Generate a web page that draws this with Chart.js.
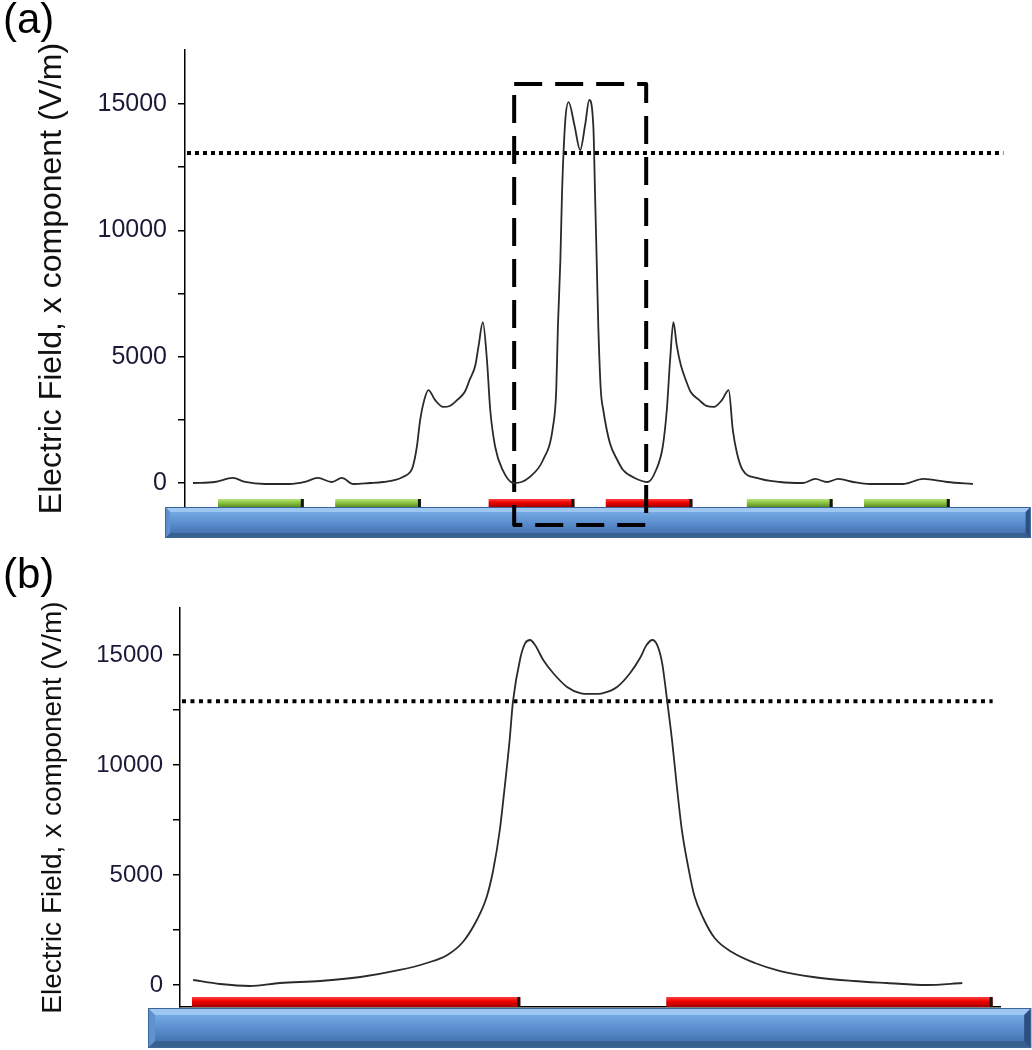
<!DOCTYPE html>
<html>
<head>
<meta charset="utf-8">
<script src="https://cdn.jsdelivr.net/npm/chart.js@4.4.1/dist/chart.umd.min.js"></script>
<style>
  body { margin: 0; background: #fff; }
  canvas { position: absolute; left: 0; }
  #chartA { top: 0; }
  #chartB { top: 545px; }
</style>
</head>
<body>
<canvas id="chartA" width="1032" height="545"></canvas>
<canvas id="chartB" width="1032" height="505"></canvas>
<script>
// panel (a): field along the surface, 6 electrodes
const xA = [0.97, 3.6, 5.8, 7.3, 9.7, 12.7, 14.5, 16.1, 17.8, 19.0, 20.4, 22.4, 24.0, 25.5, 26.4, 27.3, 27.6, 28.1, 28.5, 29.0,
    29.5, 30.3, 31.3, 32.1, 33.0, 33.9, 34.5, 35.2, 35.6, 36.1, 36.6, 37.0, 37.6, 38.5, 39.8, 40.8, 41.8, 43.4, 44.6, 45.0,
    45.2, 45.5, 45.7, 46.1, 46.5, 47.2, 47.9, 48.5, 49.0, 49.5, 49.7, 49.9, 50.1, 50.4, 50.7, 51.5, 52.4, 53.1, 54.5, 56.1,
    57.1, 57.9, 58.4, 58.8, 59.2, 59.6, 60.1, 60.7, 61.3, 62.3, 63.2, 64.1, 65.1, 65.9, 66.4, 66.9, 67.6, 69.3, 72.1, 74.9,
    76.4, 77.8, 79.2, 81.0, 83.0, 87.0, 89.5, 92.4, 95.5];
const fieldA = [0, 40, 200, 40, -40, -40, 40, 200, 40, 200, -40, 0, 40, 120, 240, 435, 630, 1425, 2490, 3290,
    3680, 3290, 3010, 3050, 3290, 3600, 4080, 4670, 5460, 6370, 4870, 2890, 1425, 515, 0, 40, 240, 910, 2220, 3680,
    6180, 8830, 11480, 14370, 15080, 14170, 13180, 14170, 15160, 14090, 11480, 8830, 6180, 3680, 2890, 1580, 910, 515, 200, 40,
    515, 1425, 2890, 4870, 6370, 5460, 4670, 4080, 3600, 3290, 3050, 3010, 3290, 3680, 2100, 1190, 515, 200, 40, 0,
    160, 40, 160, 40, -40, -40, 160, 40, -40];
const thresholdA = 13060;
const thresholdSpanA = [0.24, 99.2];
const zoomBoxA = { left: 39.9, right: 55.9, top: 15796, bottom: -1663 };
const electrodeStartA = [4.0, 18.2, 36.8, 51.0, 68.1, 82.3];
const electrodeEndA = [14.4, 28.6, 47.2, 61.5, 78.5, 92.7];
const electrodeKindA = ['green', 'green', 'red', 'red', 'green', 'green'];
const electrodeLevelsA = [-633, -950];
const substrateA = { left: -2.4, right: 102.5, top: -950, bottom: -2177 };

// panel (b): zoom on the two central electrodes
const xB = [1.6, 4.9, 8.5, 12.2, 17.1, 22.0, 26.8, 30.1, 32.6, 34.5, 36.2, 37.4, 38.2, 39.0, 39.6, 40.2, 40.6, 41.5, 42.1, 42.7,
    43.3, 44.3, 45.5, 47.2, 48.8, 50.2, 51.6, 53.3, 54.9, 56.1, 56.9, 57.6, 58.2, 58.8, 59.4, 60.0, 60.6, 61.2, 62.0, 62.7,
    63.8, 65.2, 67.3, 70.1, 73.2, 77.2, 82.1, 86.2, 91.1, 95.4];
const fieldB = [227, 45, -45, 91, 182, 364, 682, 1000, 1364, 1955, 2955, 4000, 5227, 7045, 9000, 11136, 12864, 14850, 15540, 15680,
    15450, 14770, 14180, 13545, 13270, 13230, 13270, 13545, 14180, 14860, 15450, 15680, 15450, 14630, 12950, 11140, 9000, 7045, 5320, 4090,
    3045, 2136, 1500, 1000, 636, 364, 182, 91, 0, 91];
const thresholdB = 12900;
const thresholdSpanB = [0.24, 99.1];
const electrodeStartB = [1.46, 59.3];
const electrodeEndB = [41.5, 99.1];
const electrodeKindB = ['red', 'red'];
const electrodeLevelsB = [-545, -1000];
const substrateB = { left: -3.9, right: 103.8, top: -1045, bottom: -2864 };

const yTickMarks = [0, 2500, 5000, 7500, 10000, 12500, 15000];
const yTickLabels = [0, 5000, 10000, 15000];
const yTitle = 'Electric Field, x component (V/m)';

function drawSlab(ctx, x0, y0, x1, y1, b) {
    const g = ctx.createLinearGradient(0, y0, 0, y1);
    g.addColorStop(0, '#80b3ec');
    g.addColorStop(0.3, '#6b9fdc');
    g.addColorStop(0.65, '#5283c3');
    g.addColorStop(1, '#3c66a2');
    ctx.fillStyle = g;
    ctx.fillRect(x0, y0, x1 - x0, y1 - y0);
    const poly = (pts, color) => {
        ctx.beginPath();
        ctx.moveTo(pts[0], pts[1]);
        for (let i = 2; i < pts.length; i += 2) ctx.lineTo(pts[i], pts[i + 1]);
        ctx.closePath();
        ctx.fillStyle = color;
        ctx.fill();
    };
    poly([x0, y0, x1, y0, x1 - b, y0 + b, x0 + b, y0 + b], '#9dc6f1');
    poly([x0, y1, x1, y1, x1 - b, y1 - b, x0 + b, y1 - b], '#36608f');
    poly([x0, y0, x0 + b, y0 + b, x0 + b, y1 - b, x0, y1], '#5f92d1');
    poly([x1, y0, x1 - b, y0 + b, x1 - b, y1 - b, x1, y1], '#2d4f80');
    ctx.strokeStyle = '#3d6499';
    ctx.lineWidth = 1;
    ctx.strokeRect(x0 + 0.5, y0 + 0.5, x1 - x0 - 1, y1 - y0 - 1);
}

function drawElectrode(ctx, x0, y0, x1, y1, kind) {
    const g = ctx.createLinearGradient(0, y0, 0, y1);
    if (kind === 'green') {
        g.addColorStop(0, '#b9e37f');
        g.addColorStop(0.45, '#8dc640');
        g.addColorStop(1, '#5b8c25');
    } else {
        g.addColorStop(0, '#ff4040');
        g.addColorStop(0.45, '#ee0000');
        g.addColorStop(1, '#a50000');
    }
    ctx.fillStyle = g;
    ctx.fillRect(x0, y0, x1 - x0, y1 - y0);
    ctx.fillStyle = '#151515';
    ctx.fillRect(x1 - 3, y0, 3, y1 - y0);
}

function makeSubstratePlugin(label, labelY, slab, bevel, starts, ends, kinds, levels) {
    return {
        id: 'substrate' + label,
        beforeDatasetsDraw(chart) {
            const { ctx, scales: { x, y } } = chart;
            ctx.save();
            drawSlab(ctx, x.getPixelForValue(slab.left), y.getPixelForValue(slab.top),
                x.getPixelForValue(slab.right), y.getPixelForValue(slab.bottom), bevel);
            starts.forEach((s, i) => {
                drawElectrode(ctx, x.getPixelForValue(s), y.getPixelForValue(levels[0]),
                    x.getPixelForValue(ends[i]), y.getPixelForValue(levels[1]), kinds[i]);
            });
            ctx.restore();
        },
        afterDraw(chart) {
            const ctx = chart.ctx;
            ctx.save();
            ctx.font = '42px "Liberation Sans", Arial, sans-serif';
            ctx.fillStyle = '#000';
            ctx.textBaseline = 'alphabetic';
            ctx.fillText(label, 3, labelY);
            ctx.restore();
        }
    };
}

function makeOptions(cfg) {
    return {
        responsive: false,
        animation: false,
        devicePixelRatio: 1,
        layout: { padding: { left: 0, top: cfg.padTop, right: cfg.padRight, bottom: cfg.padBottom } },
        plugins: { legend: { display: false }, tooltip: { enabled: false } },
        scales: {
            x: {
                type: 'linear',
                min: 0,
                max: 100,
                display: cfg.showBase,
                afterFit: axis => { axis.height = 0; },
                ticks: { display: false },
                grid: { display: false },
                border: { display: cfg.showBase, color: '#000', width: 1.5 }
            },
            y: {
                type: 'linear',
                min: cfg.yMin,
                max: cfg.yMax,
                afterFit: axis => { axis.width = cfg.axisWidth; },
                afterBuildTicks: axis => { axis.ticks = yTickMarks.map(v => ({ value: v })); },
                ticks: {
                    autoSkip: false,
                    padding: cfg.tickPad,
                    color: '#1a1a38',
                    font: { family: '"Liberation Sans", Arial, sans-serif', size: cfg.tickSize },
                    callback: v => (yTickLabels.includes(v) ? String(v) : '')
                },
                grid: { display: true, drawOnChartArea: false, drawTicks: true, tickLength: 7, color: '#000', lineWidth: 1.5 },
                border: { display: true, color: '#000', width: 1.5 },
                title: {
                    display: true,
                    text: yTitle,
                    color: '#111',
                    padding: { top: cfg.titlePad, bottom: 0 },
                    font: { family: '"Liberation Sans", Arial, sans-serif', size: cfg.titleSize }
                }
            }
        }
    };
}

const pts = (xs, ys) => xs.map((x, i) => ({ x, y: ys[i] }));

new Chart(document.getElementById('chartA'), {
    type: 'line',
    data: {
        datasets: [
            {
                data: pts(xA, fieldA),
                borderColor: '#2a2a2a', borderWidth: 1.8, pointRadius: 0,
                cubicInterpolationMode: 'monotone'
            },
            {
                data: pts(thresholdSpanA, [thresholdA, thresholdA]),
                borderColor: '#000', borderWidth: 4, borderDash: [4, 4], pointRadius: 0
            },
            {
                data: [
                    { x: zoomBoxA.left, y: zoomBoxA.top }, { x: zoomBoxA.right, y: zoomBoxA.top },
                    { x: zoomBoxA.right, y: zoomBoxA.bottom }, { x: zoomBoxA.left, y: zoomBoxA.bottom },
                    { x: zoomBoxA.left, y: zoomBoxA.top }
                ],
                borderColor: '#000', borderWidth: 4, borderDash: [28, 13], pointRadius: 0,
                borderJoinStyle: 'round', clip: false
            }
        ]
    },
    options: makeOptions({
        padTop: 50, padRight: 22, padBottom: 38, yMin: -950, yMax: 17140, axisWidth: 185,
        tickPad: 11, tickSize: 25, titlePad: 33, titleSize: 32, showBase: false
    }),
    plugins: [makeSubstratePlugin('(a)', 33, substrateA, 5, electrodeStartA, electrodeEndA, electrodeKindA, electrodeLevelsA)]
});

new Chart(document.getElementById('chartB'), {
    type: 'line',
    data: {
        datasets: [
            {
                data: pts(xB, fieldB),
                borderColor: '#2a2a2a', borderWidth: 1.8, pointRadius: 0,
                cubicInterpolationMode: 'monotone'
            },
            {
                data: pts(thresholdSpanB, [thresholdB, thresholdB]),
                borderColor: '#000', borderWidth: 4, borderDash: [4, 4.5], pointRadius: 0
            }
        ]
    },
    options: makeOptions({
        padTop: 63, padRight: 32, padBottom: 43, yMin: -1000, yMax: 17135, axisWidth: 180,
        tickPad: 10, tickSize: 24, titlePad: 36, titleSize: 28, showBase: true
    }),
    plugins: [makeSubstratePlugin('(b)', 43, substrateB, 7, electrodeStartB, electrodeEndB, electrodeKindB, electrodeLevelsB)]
});
</script>
</body>
</html>
